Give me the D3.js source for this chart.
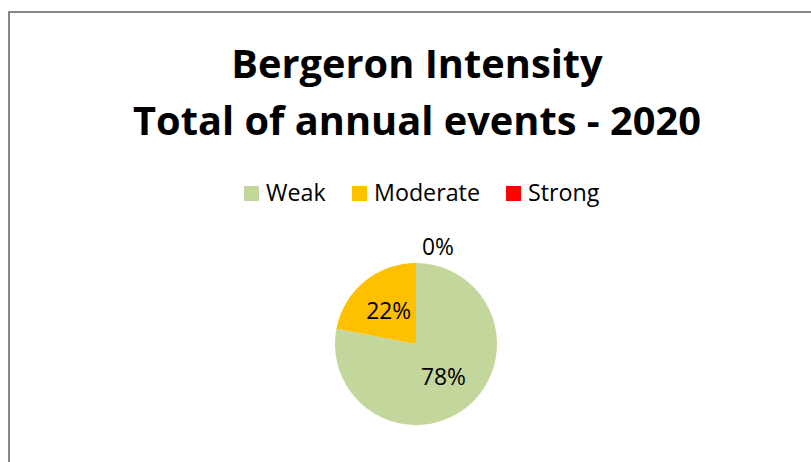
<!DOCTYPE html>
<html lang="en">
<head>
<meta charset="utf-8">
<title>Bergeron Intensity</title>
<script src="https://d3js.org/d3.v7.min.js"></script>
<style>
  body { margin: 0; background: #fff; }
  text { font-family: "Open Sans", sans-serif; fill: #000; }
</style>
</head>
<body>
<div id="chart"></div>
<script>
  // chart data
  var categories = ["Weak", "Moderate", "Strong"];
  var values = [78, 22, 0];
  var colors = ["#c3d69b", "#ffc000", "#ff0000"];
  var titleLines = ["Bergeron Intensity", "Total of annual events - 2020"];

  var w = 811, h = 462;

  var svg = d3.select("#chart")
    .append("svg")
    .attr("width", w)
    .attr("height", h);

  // find a font size that gives a text the wanted width
  function fitSize(str, width, weight) {
    var t = svg.append("text")
      .attr("font-size", 100)
      .attr("font-weight", weight || "normal")
      .text(str);
    var len = t.node().getComputedTextLength();
    t.remove();
    return 100 * width / len;
  }

  var titleSize = fitSize(titleLines[1], 568, "bold");
  var legendSize = fitSize("Moderate", 106);
  var labelSize = fitSize("78%", 45);

  // chart border (runs off the right and bottom edge)
  svg.append("rect")
    .attr("x", 9)
    .attr("y", 12)
    .attr("width", w + 20)
    .attr("height", h + 20)
    .attr("fill", "#fff")
    .attr("stroke", "#868686")
    .attr("stroke-width", 2);

  // title
  svg.append("g").selectAll("text")
    .data(titleLines)
    .enter()
    .append("text")
    .attr("x", 417)
    .attr("y", function (d, i) { return 78 + i * 57; })
    .attr("text-anchor", "middle")
    .attr("font-size", titleSize)
    .attr("font-weight", "bold")
    .text(function (d) { return d; });

  // legend
  var legendX = [244, 352, 506];
  var legend = svg.append("g").selectAll("g")
    .data(categories)
    .enter()
    .append("g")
    .attr("transform", function (d, i) { return "translate(" + legendX[i] + ",186)"; });
  legend.append("rect")
    .attr("width", 15)
    .attr("height", 15)
    .attr("fill", function (d, i) { return colors[i]; });
  legend.append("text")
    .attr("x", 22)
    .attr("y", 15)
    .attr("font-size", legendSize)
    .text(function (d) { return d; });

  // pie
  var cx = 416, cy = 344, r = 81;
  var pie = d3.pie().sort(null).value(function (d) { return d; });
  var arcs = pie(values);
  var arc = d3.arc().innerRadius(0).outerRadius(r);
  var labelArc = d3.arc().innerRadius(r * 0.53).outerRadius(r * 0.53);
  var outerArc = d3.arc().innerRadius(r + 20).outerRadius(r + 20);

  var g = svg.append("g").attr("transform", "translate(" + cx + "," + cy + ")");
  g.selectAll("path")
    .data(arcs)
    .enter()
    .append("path")
    .attr("d", arc)
    .attr("fill", function (d, i) { return colors[i]; });

  var total = d3.sum(values);
  g.selectAll("text")
    .data(arcs)
    .enter()
    .append("text")
    .attr("transform", function (d) {
      var p = d.value === 0 ? outerArc.centroid(d) : labelArc.centroid(d);
      if (d.value === 0) p = [p[0] + 22, p[1] + 4];
      return "translate(" + p + ")";
    })
    .attr("text-anchor", "middle")
    .attr("dy", "0.35em")
    .attr("font-size", labelSize)
    .text(function (d) { return Math.round(d.value / total * 100) + "%"; });
</script>
</body>
</html>
